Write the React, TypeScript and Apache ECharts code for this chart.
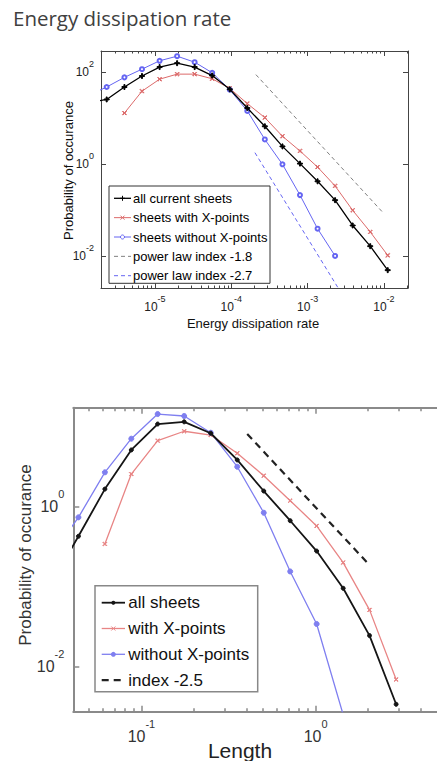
import React, { useEffect, useRef } from 'react';
import * as echarts from 'echarts';

// ---------- Top chart: energy dissipation rate ----------
const pageTitle = 'Energy dissipation rate';
const energyX = [1.38e-6, 2.33e-6, 3.98e-6, 6.76e-6, 1.15e-5, 1.95e-5, 3.31e-5, 5.62e-5, 9.55e-5, 1.62e-4, 2.75e-4, 4.68e-4, 7.94e-4, 1.35e-3, 2.29e-3, 3.89e-3, 6.61e-3, 1.12e-2];
const energyAll = [21.9, 25.7, 47.9, 83, 130, 158, 130, 85, 42.7, 16.7, 6.7, 2.45, 1.035, 0.427, 0.166, 0.0468, 0.0166, 0.005];
const energyWith = [null, null, 13.0, 38.9, 70.8, 91.2, 91.2, 72.4, 44.7, 20.9, 10.35, 4.07, 1.95, 0.871, 0.339, 0.1, 0.0339, 0.0105];
const energyWithout = [32, 47.9, 77.6, 117, 178, 224, 166, 97.7, 41.7, 14.5, 3.47, 1.0, 0.214, 0.0398, 0.0102, null, null, null];
const power18X = [2.1e-4, 9.6e-3];
const power18Y = [89, 0.091];
const power27X = [2.04e-4, 2.82e-3];
const power27Y = [1.79, 0.0015];
const energyTicksX = [1e-5, 1e-4, 1e-3, 1e-2];
const energyTicksY = [1e-2, 1, 1e2];
const energyNames = ['all current sheets', 'sheets with X-points', 'sheets without X-points', 'power law index -1.8', 'power law index -2.7'];

// ---------- Bottom chart: length ----------
const lengthX = [0.0306, 0.0435, 0.0617, 0.0875, 0.124, 0.176, 0.25, 0.355, 0.504, 0.715, 1.014, 1.44, 2.04, 2.9];
const lengthAll = [0.112, 0.427, 1.66, 5.12, 10.8, 11.5, 8.28, 3.84, 1.57, 0.668, 0.279, 0.0955, 0.0245, 0.00339];
const lengthWith = [null, null, 0.342, 2.56, 6.68, 8.77, 7.87, 4.66, 2.44, 1.19, 0.575, 0.2, 0.0513, 0.00692];
const lengthWithout = [0.251, 0.736, 2.69, 7.08, 14.4, 13.6, 8.41, 3.16, 0.841, 0.155, 0.0342, 0.00251, null, null];
const index25X = [0.405, 1.98];
const index25Y = [8.11, 0.2];
const lengthTicksX = [0.1, 1];
const lengthTicksY = [0.01, 1];
const lengthNames = ['all sheets', 'with X-points', 'without X-points', 'index -2.5'];

const lg = Math.log10;
const FONT = 'Liberation Sans, Arial, Helvetica, sans-serif';

const pairs = (xs: number[], ys: (number | null)[]) =>
  xs.map((x, i) => (ys[i] == null ? null : [lg(x), lg(ys[i] as number)])).filter((p) => p !== null);

const minorTicks = (min: number, max: number) => {
  const out: number[] = [];
  for (let d = Math.floor(min) - 1; d <= Math.ceil(max); d++) {
    for (let m = 2; m <= 9; m++) {
      const v = lg(m) + d;
      if (v > min && v < max) out.push(v);
    }
  }
  return out;
};

const PLUS = 'path://M4,0H6V4H10V6H6V10H4V6H0V4H4Z';
const CROSS = 'path://M1,0L5,4L9,0L10,1L6,5L10,9L9,10L5,6L1,10L0,9L4,5L0,1Z';

// series styles (shared by series and the drawn legend)
const energyStyles = [
  { color: '#000', width: 1.3, marker: 'plus', size: 5 },
  { color: '#dc6a6a', width: 1, marker: 'cross', size: 4 },
  { color: '#6565f2', width: 1, marker: 'emptyCircle', size: 4 },
  { color: '#808080', width: 1, marker: 'none', size: 0, dash: [4, 3] },
  { color: '#6565f2', width: 1, marker: 'none', size: 0, dash: [4, 3] },
];
const lengthStyles = [
  { color: '#151515', width: 1.8, marker: 'circle', size: 4 },
  { color: '#e88585', width: 1.3, marker: 'cross', size: 4 },
  { color: '#7f7ff0', width: 1.3, marker: 'circle', size: 5 },
  { color: '#222', width: 2.2, marker: 'none', size: 0, dash: [7, 5] },
];

const echartsSymbol = (m: string) =>
  m === 'plus' ? PLUS : m === 'cross' ? CROSS : m;

function legendGraphic(names: string[], styles: any[], box: any, row: any) {
  const children: any[] = [
    {
      type: 'rect',
      shape: { x: box.x, y: box.y, width: box.w, height: box.h },
      style: { fill: '#fff', stroke: box.stroke, lineWidth: box.lineWidth },
    },
  ];
  names.forEach((name, i) => {
    const s = styles[i];
    const y = row.y0 + row.gap * i;
    const cx = (row.x1 + row.x2) / 2;
    children.push({
      type: 'line',
      shape: { x1: row.x1, y1: y, x2: row.x2, y2: y },
      style: { stroke: s.color, lineWidth: s.width, lineDash: s.dash || null },
    });
    const r = s.size / 2;
    if (s.marker === 'plus') {
      children.push({ type: 'line', shape: { x1: cx - r, y1: y, x2: cx + r, y2: y }, style: { stroke: s.color, lineWidth: 1 } });
      children.push({ type: 'line', shape: { x1: cx, y1: y - r, x2: cx, y2: y + r }, style: { stroke: s.color, lineWidth: 1 } });
    } else if (s.marker === 'cross') {
      children.push({ type: 'line', shape: { x1: cx - r, y1: y - r, x2: cx + r, y2: y + r }, style: { stroke: s.color, lineWidth: 1 } });
      children.push({ type: 'line', shape: { x1: cx - r, y1: y + r, x2: cx + r, y2: y - r }, style: { stroke: s.color, lineWidth: 1 } });
    } else if (s.marker === 'emptyCircle') {
      children.push({ type: 'circle', shape: { cx, cy: y, r }, style: { fill: '#fff', stroke: s.color, lineWidth: 1 } });
    } else if (s.marker === 'circle') {
      children.push({ type: 'circle', shape: { cx, cy: y, r }, style: { fill: s.color } });
    }
    children.push({
      type: 'text',
      x: row.tx,
      y,
      style: { text: name, fontSize: row.fontSize, fontFamily: FONT, fill: row.textColor, verticalAlign: 'middle' },
    });
  });
  return { type: 'group', z: 100, children };
}

export default function App() {
  const ref = useRef<HTMLDivElement>(null);
  useEffect(() => {
    if (!ref.current) return;
    const chart = echarts.init(ref.current, null, { renderer: 'svg' });

    const topX = { min: -5.707, max: -1.685 };
    const topY = { min: -2.689, max: 2.463 };
    const botX = { min: -1.391, max: 0.697 };
    const botY = { min: -2.5625, max: 1.2375 };

    const richSmall = {
      b: { fontSize: 12, lineHeight: 18.5, fontFamily: FONT, color: '#222', verticalAlign: 'bottom' },
      e: { fontSize: 9, lineHeight: 10, fontFamily: FONT, color: '#222', verticalAlign: 'top' },
    };
    const richBig = {
      b: { fontSize: 16, lineHeight: 26.5, fontFamily: FONT, color: '#333', verticalAlign: 'bottom' },
      e: { fontSize: 11, lineHeight: 12, fontFamily: FONT, color: '#333', verticalAlign: 'top' },
    };
    const expFmt = (v: number) => '{b|10}{e|' + Math.round(v) + '}';

    const axis = (o: any) => ({
      type: 'value',
      gridIndex: o.grid,
      position: o.position,
      min: o.range.min,
      max: o.range.max,
      axisLine: { show: o.line !== false, onZero: false, lineStyle: { color: o.color, width: o.lineWidth } },
      axisTick: {
        show: true,
        inside: true,
        length: o.tickLen,
        customValues: o.ticks,
        lineStyle: { color: o.color, width: o.tickWidth || 1 },
      },
      axisLabel: o.labels
        ? { show: true, customValues: o.ticks, formatter: expFmt, margin: o.margin, rich: o.rich, padding: o.padding || 0 }
        : { show: false },
      splitLine: { show: false },
    });

    const topColor = '#444';
    const botColor = '#8a8a8a';

    const xAxis = [
      axis({ grid: 0, position: 'bottom', range: topX, color: topColor, lineWidth: 1, tickLen: 5, ticks: energyTicksX.map(lg), labels: true, margin: 6.5, rich: richSmall }),
      axis({ grid: 0, position: 'bottom', range: topX, color: topColor, line: false, tickLen: 2.5, ticks: minorTicks(topX.min, topX.max) }),
      axis({ grid: 0, position: 'top', range: topX, color: topColor, lineWidth: 1, tickLen: 5, ticks: energyTicksX.map(lg) }),
      axis({ grid: 0, position: 'top', range: topX, color: topColor, line: false, tickLen: 2.5, ticks: minorTicks(topX.min, topX.max) }),
      axis({ grid: 1, position: 'bottom', range: botX, color: botColor, lineWidth: 2, tickLen: 6, tickWidth: 1.5, ticks: lengthTicksX.map(lg), labels: true, margin: 6.5, rich: richBig }),
      axis({ grid: 1, position: 'bottom', range: botX, color: botColor, line: false, tickLen: 3.5, tickWidth: 1.5, ticks: minorTicks(botX.min, botX.max) }),
      axis({ grid: 1, position: 'top', range: botX, color: botColor, lineWidth: 2, tickLen: 6, tickWidth: 1.5, ticks: lengthTicksX.map(lg) }),
      axis({ grid: 1, position: 'top', range: botX, color: botColor, line: false, tickLen: 3.5, tickWidth: 1.5, ticks: minorTicks(botX.min, botX.max) }),
    ];
    const yAxis = [
      axis({ grid: 0, position: 'left', range: topY, color: topColor, lineWidth: 1, tickLen: 5, ticks: energyTicksY.map(lg), labels: true, margin: 7, rich: richSmall, padding: [0, 0, 6.5, 0] }),
      axis({ grid: 0, position: 'right', range: topY, color: topColor, lineWidth: 1, tickLen: 5, ticks: energyTicksY.map(lg) }),
      axis({ grid: 1, position: 'left', range: botY, color: botColor, lineWidth: 2, tickLen: 6, tickWidth: 1.5, ticks: lengthTicksY.map(lg), labels: true, margin: 9, rich: richBig, padding: [0, 0, 10.5, 0] }),
    ];

    const line = (name: string, x: number, y: number, data: any, s: any, z: number) => ({
      type: 'line',
      name,
      xAxisIndex: x,
      yAxisIndex: y,
      data,
      symbol: s.marker === 'none' ? 'none' : echartsSymbol(s.marker),
      symbolSize: s.size,
      showSymbol: s.marker !== 'none',
      clip: true,
      silent: true,
      lineStyle: { color: s.color, width: s.width, type: s.dash || 'solid' },
      itemStyle: { color: s.color, borderColor: s.color, borderWidth: 1 },
      z,
    });

    const series = [
      line(energyNames[0], 0, 0, pairs(energyX, energyAll), energyStyles[0], 4),
      line(energyNames[1], 0, 0, pairs(energyX, energyWith), energyStyles[1], 3),
      line(energyNames[2], 0, 0, pairs(energyX, energyWithout), energyStyles[2], 3),
      line(energyNames[3], 0, 0, pairs(power18X, power18Y), energyStyles[3], 2),
      line(energyNames[4], 0, 0, pairs(power27X, power27Y), energyStyles[4], 2),
      line(lengthNames[0], 4, 2, pairs(lengthX, lengthAll), lengthStyles[0], 4),
      line(lengthNames[1], 4, 2, pairs(lengthX, lengthWith), lengthStyles[1], 3),
      line(lengthNames[2], 4, 2, pairs(lengthX, lengthWithout), lengthStyles[2], 3),
      line(lengthNames[3], 4, 2, pairs(index25X, index25Y), lengthStyles[3], 2),
    ];

    chart.setOption({
      animation: false,
      backgroundColor: '#fff',
      grid: [
        { left: 101, top: 51, width: 307, height: 237, containLabel: false },
        { left: 73.3, top: 407.7, width: 392, height: 304, containLabel: false },
      ],
      xAxis,
      yAxis,
      series,
      graphic: [
        { type: 'text', x: 13, y: 18, style: { text: pageTitle, fontSize: 20.5, fontFamily: 'Open Sans', fill: '#404040', verticalAlign: 'middle' } },
        { type: 'text', x: 68, y: 170.5, rotation: Math.PI / 2, style: { text: 'Probability of occurance', fontSize: 13, fontFamily: FONT, fill: '#111', align: 'center', verticalAlign: 'middle' } },
        { type: 'text', x: 253, y: 323, style: { text: 'Energy dissipation rate', fontSize: 13, fontFamily: FONT, fill: '#111', align: 'center', verticalAlign: 'middle' } },
        { type: 'text', x: 25, y: 555, rotation: Math.PI / 2, style: { text: 'Probability of occurance', fontSize: 17, fontFamily: FONT, fill: '#333', align: 'center', verticalAlign: 'middle' } },
        { type: 'text', x: 240, y: 750, style: { text: 'Length', fontSize: 21, fontFamily: FONT, fill: '#222', align: 'center', verticalAlign: 'middle' } },
        legendGraphic(
          energyNames,
          energyStyles,
          { x: 109, y: 186, w: 161, h: 97.3, stroke: '#333', lineWidth: 1 },
          { y0: 198.3, gap: 19.35, x1: 114, x2: 131, tx: 133, fontSize: 13, textColor: '#000' }
        ),
        legendGraphic(
          lengthNames,
          lengthStyles,
          { x: 95, y: 585.7, w: 162.7, h: 106, stroke: '#888', lineWidth: 1.5 },
          { y0: 602.7, gap: 25.8, x1: 101.7, x2: 125, tx: 128.3, fontSize: 17, textColor: '#111' }
        ),
      ],
    });
    return () => chart.dispose();
  }, []);

  return (
    <div
      ref={ref}
      style={{ position: 'absolute', left: 0, top: 0, width: 437, height: 761, background: '#fff', overflow: 'hidden' }}
    />
  );
}
